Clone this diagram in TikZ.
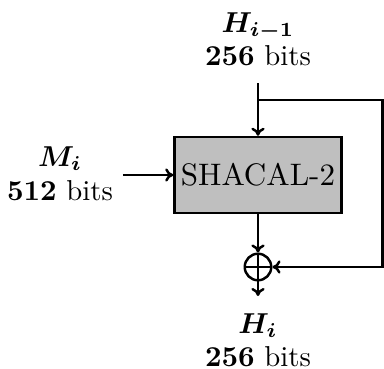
\documentclass[tikz,border=0pt]{standalone}
\usepackage{amsmath,amssymb}
\usepackage{xcolor}
\usepackage{tikz}
\usetikzlibrary{arrows.meta, positioning, calc}

\begin{document}
\begin{tikzpicture}[x=0.3472pt, y=-0.3472pt,
  box/.style={rectangle, draw, fill=lightgray, minimum width=58pt, minimum height=26.4pt,
              inner sep=0pt, line width=0.85pt, font=\fontsize{10.8}{13}\selectfont},
  xorop/.style={circle, draw, line width=0.85pt, minimum size=9.2pt, inner sep=0pt},
  lbl/.style={anchor=base, inner sep=0pt},
  wire/.style={line width=0.85pt},
  arrow/.style={-{To[length=2.8pt,width=4.6pt]}, line width=0.85pt}]

  \useasboundingbox (0,0) rectangle (384,369);

  \node[box] (SHA) at (258,175) {SHACAL-2};
  \node[xorop] (XOR) at (258,267) {};
  \draw[wire] (XOR.north) -- (XOR.south) (XOR.west) -- (XOR.east);

  \node[lbl] (HPREV) at (258,32) {$\boldsymbol{H_{i-1}}$};
  \node[lbl] (HPREVBITS) at (258,65) {\textbf{256} bits};
  \node[lbl] (MSG) at (60,166) {$\boldsymbol{M_{i}}$};
  \node[lbl] (MSGBITS) at (60,200) {\textbf{512} bits};
  \node[lbl] (HNEXT) at (258,333) {$\boldsymbol{H_{i}}$};
  \node[lbl] (HNEXTBITS) at (258,367) {\textbf{256} bits};

  \coordinate (HIN) at (258,83);
  \coordinate (FORK) at (258,100);
  \coordinate (RTOP) at (382.5,100);
  \coordinate (RBOT) at (382.5,267);
  \coordinate (MIN) at (123,175);
  \coordinate (HOUT) at (258,296);

  \draw[arrow] (HIN) -- (SHA);
  \draw[arrow] (MIN) -- (SHA);
  \draw[arrow] (SHA) -- (XOR);
  \draw[arrow] (FORK) -- (RTOP) -- (RBOT) -- (XOR);
  \draw[arrow] (XOR) -- (HOUT);
\end{tikzpicture}
\end{document}
